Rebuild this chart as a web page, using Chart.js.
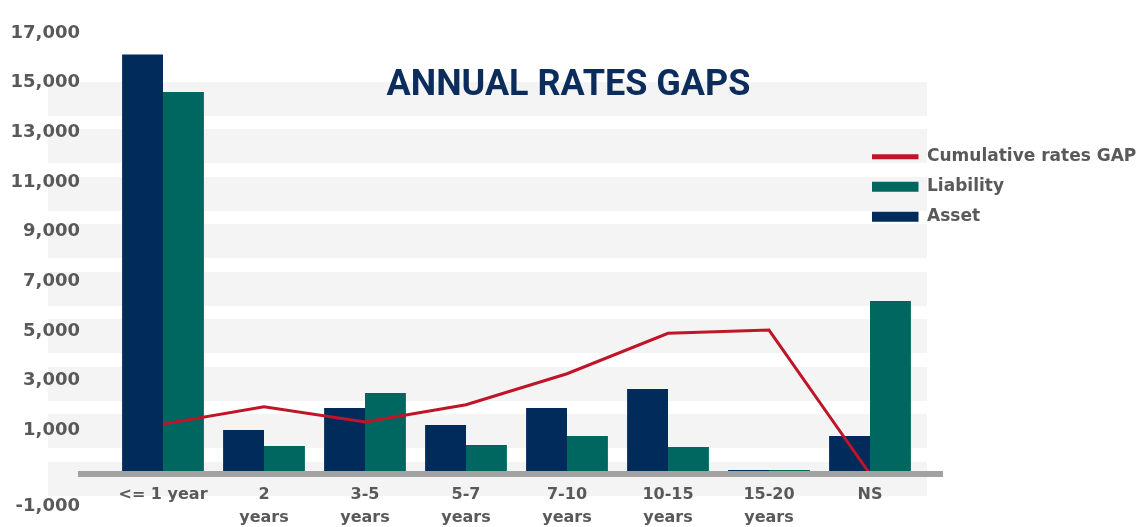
<!DOCTYPE html>
<html>
<head>
<meta charset="utf-8">
<script src="https://cdn.jsdelivr.net/npm/chart.js@4.4.1/dist/chart.umd.min.js"></script>
<style>
  html, body { margin: 0; padding: 0; background: #ffffff; }
  #wrap { width: 1137px; height: 527px; position: relative; }
</style>
</head>
<body>
<div id="wrap"><canvas id="c"></canvas></div>
<script>
// ---------------- data ----------------
const categories = [
  ['<= 1 year'],
  ['2', 'years'],
  ['3-5', 'years'],
  ['5-7', 'years'],
  ['7-10', 'years'],
  ['10-15', 'years'],
  ['15-20', 'years'],
  ['NS']
];
const assetValues         = [16900, 1770, 2660, 1970, 2660, 3420, 160, 1530];
const liabilityValues     = [15390, 1130, 3260, 1170, 1530, 1090, 160, 6970];
const cumulativeGapValues = [2010, 2710, 2100, 2790, 4040, 5670, 5800, 0];
const yTickValues = [17000, 15000, 13000, 11000, 9000, 7000, 5000, 3000, 1000, -1000];
const seriesNames = ['Asset', 'Liability', 'Cumulative rates GAP'];
const chartTitle = 'ANNUAL RATES GAPS';

// ---------------- styling ----------------
const NAVY = '#002b5a';
const TEAL = '#006660';
const RED = '#be1628';
const AXIS_GRAY = '#a2a2a2';
const BAND = '#f4f4f4';
const TEXT = '#595959';
const TITLE_COLOR = '#0c2d5b';

const Y_MIN = -1000, Y_MAX = 18000;
// helper band axis (alternating light stripes behind the plot)
const BAND_MIN = -0.4236, BAND_MAX = 9.5044, BAND_COUNT = 9;

const fmt = v => v.toLocaleString('en-US');
const zeroWidth = s => { s.width = 0; s.paddingTop = s.paddingBottom = s.paddingLeft = s.paddingRight = 0; };
const bandTicks = s => { s.ticks = Array.from({ length: BAND_COUNT }, (_, i) => ({ value: i })); };

Chart.defaults.font.family = 'DejaVu Sans';

new Chart(document.getElementById('c'), {
  type: 'bar',
  data: {
    labels: categories,
    datasets: [
      {
        label: seriesNames[0],
        data: assetValues,
        backgroundColor: NAVY,
        borderWidth: 0,
        pointStyle: 'rect',
        barPercentage: 1,
        categoryPercentage: 0.81,
        clip: false,
        yAxisID: 'y',
        order: 0
      },
      {
        label: seriesNames[1],
        data: liabilityValues,
        backgroundColor: TEAL,
        borderWidth: 0,
        pointStyle: 'rect',
        barPercentage: 1,
        categoryPercentage: 0.81,
        clip: false,
        yAxisID: 'y',
        order: 0
      },
      {
        type: 'line',
        label: seriesNames[2],
        data: cumulativeGapValues,
        borderColor: RED,
        backgroundColor: RED,
        borderWidth: 3,
        pointRadius: 0,
        pointStyle: 'line',
        tension: 0,
        fill: false,
        yAxisID: 'y',
        order: -1
      }
    ]
  },
  options: {
    responsive: true,
    maintainAspectRatio: false,
    animation: false,
    devicePixelRatio: 1,
    layout: { padding: { left: 0, right: 0, top: 0, bottom: 28.18 } },
    plugins: {
      tooltip: { enabled: false },
      title: {
        display: true,
        text: chartTitle,
        color: TITLE_COLOR,
        font: { family: 'Roboto', weight: 'bold', size: 36, lineHeight: 1.2 },
        padding: { top: 64.2, bottom: -80.16 }
      },
      legend: {
        position: 'right',
        align: 'start',
        maxWidth: 267,
        title: { display: true, text: '', padding: { top: 131.8, bottom: 0 }, font: { size: 12, lineHeight: 1.2 } },
        labels: {
          usePointStyle: true,
          pointStyleWidth: 46.5,
          boxHeight: 10,
          padding: 2,
          color: TEXT,
          font: { family: 'DejaVu Sans', weight: 'bold', size: 17, lineHeight: 28 / 17 },
          sort: (a, b) => b.datasetIndex - a.datasetIndex,
          generateLabels: chart => Chart.defaults.plugins.legend.labels.generateLabels(chart).map(item => {
            const out = Object.assign({}, item, { text: [item.text] });
            if (item.pointStyle === 'line') { out.lineWidth = 5; out.strokeStyle = RED; }
            return out;
          })
        }
      }
    },
    scales: {
      x: {
        type: 'category',
        position: { y: 0 },
        offset: false,
        grid: { display: false, drawTicks: false },
        border: { display: false },
        ticks: {
          color: TEXT,
          font: { family: 'DejaVu Sans', weight: 'bold', size: 16, lineHeight: 1.4375 },
          padding: 9.5,
          maxRotation: 0,
          autoSkip: false
        }
      },
      y: {
        type: 'linear',
        position: 'left',
        weight: 1,
        min: Y_MIN,
        max: Y_MAX,
        afterBuildTicks: s => {
          s.ticks = yTickValues.concat([0]).sort((a, b) => a - b).map(v => ({ value: v }));
        },
        afterFit: s => { s.width = 163; s.paddingTop = s.paddingBottom = 0; },
        grid: {
          z: 1,
          drawTicks: true,
          tickLength: 85,
          color: c => (c.tick && c.tick.value === 0) ? AXIS_GRAY : 'rgba(0,0,0,0)',
          lineWidth: c => (c.tick && c.tick.value === 0) ? 6 : 0
        },
        border: { display: false },
        ticks: {
          autoSkip: false,
          padding: -2,
          labelOffset: -19,
          color: TEXT,
          font: { family: 'DejaVu Sans', weight: 'bold', size: 18, lineHeight: 2.95 },
          callback: v => v === 0 ? '' : (v < 0 ? ['', fmt(v)] : fmt(v))
        }
      },
      bandL: {
        type: 'linear',
        position: 'left',
        weight: 0,
        min: BAND_MIN,
        max: BAND_MAX,
        afterBuildTicks: bandTicks,
        afterFit: zeroWidth,
        grid: { color: BAND, lineWidth: 34, drawTicks: true, tickLength: 115 },
        border: { display: false },
        ticks: { display: false, autoSkip: false }
      },
      bandR: {
        type: 'linear',
        position: 'right',
        weight: 0,
        min: BAND_MIN,
        max: BAND_MAX,
        afterBuildTicks: bandTicks,
        afterFit: zeroWidth,
        grid: { color: BAND, lineWidth: 34, drawTicks: true, tickLength: 57, drawOnChartArea: false },
        border: { display: false },
        ticks: { display: false, autoSkip: false }
      },
      baseR: {
        type: 'linear',
        position: 'right',
        weight: 1,
        min: Y_MIN,
        max: Y_MAX,
        afterBuildTicks: s => { s.ticks = [{ value: 0 }]; },
        afterFit: zeroWidth,
        grid: { z: 1, color: AXIS_GRAY, lineWidth: 6, drawTicks: true, tickLength: 73, drawOnChartArea: false },
        border: { display: false },
        ticks: { display: false }
      }
    }
  }
});
</script>
</body>
</html>
